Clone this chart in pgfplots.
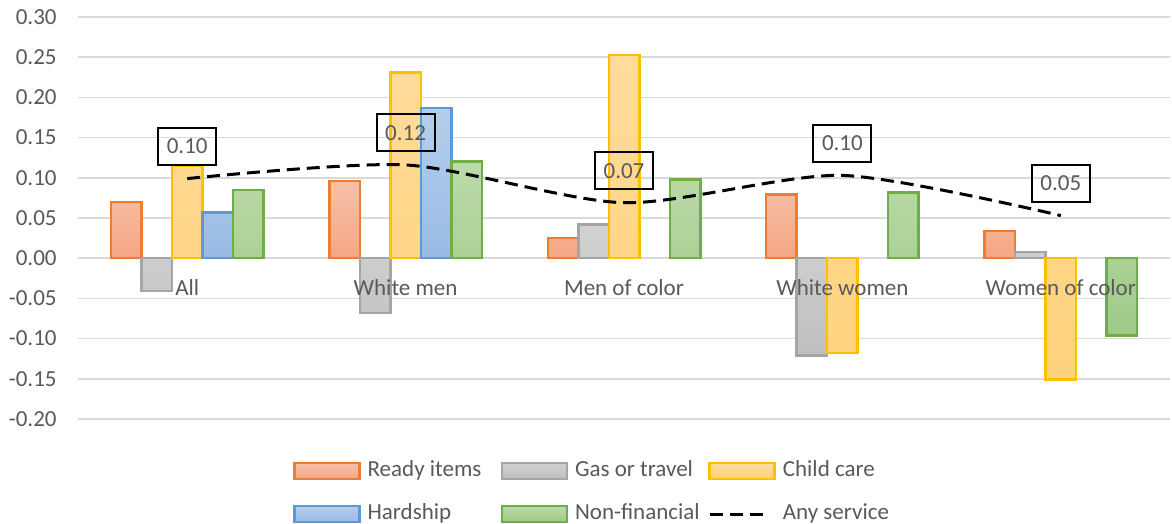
\documentclass[border=0pt]{standalone}
\usepackage{fontspec}
\setmainfont{Carlito}
\usepackage{pgfplots}
\pgfplotsset{compat=1.18}

\definecolor{axisgray}{HTML}{595959}
\definecolor{gridgray}{HTML}{D9D9D9}
\definecolor{readyline}{HTML}{ED7D31}
\definecolor{readytop}{HTML}{F6C0A8}
\definecolor{readybot}{HTML}{F4A784}
\definecolor{gasline}{HTML}{A5A5A5}
\definecolor{gastop}{HTML}{D2D2D2}
\definecolor{gasbot}{HTML}{BFBFBF}
\definecolor{careline}{HTML}{FFC000}
\definecolor{caretop}{HTML}{FFDC9C}
\definecolor{carebot}{HTML}{FFD27C}
\definecolor{hardline}{HTML}{5B9BD5}
\definecolor{hardtop}{HTML}{B6CEEC}
\definecolor{hardbot}{HTML}{98BBE4}
\definecolor{nonline}{HTML}{70AD47}
\definecolor{nontop}{HTML}{BBDAA8}
\definecolor{nonbot}{HTML}{9FCA88}

\newcommand{\lfont}{\fontsize{11.5}{13.8}\selectfont}
\newcommand{\lbl}[1]{\makebox[62pt][l]{#1}}

\pgfplotsset{
  barleg/.style={legend image code/.code={\draw[##1] (0pt,-4pt) rectangle (32.5pt,4pt);}},
  lineleg/.style={legend image code/.code={\draw[##1] (0pt,0pt) -- (30pt,0pt);}},
  gbar/.style={ybar, bar width=15.25pt, line width=1.25pt},
}

\begin{document}
\begin{tikzpicture}[x=1pt,y=1pt]
\begin{axis}[
  set layers=standard,
  at={(39pt,52.5pt)}, anchor=south west,
  scale only axis, width=546pt, height=201pt,
  xmin=-0.5, xmax=4.5, ymin=-0.2, ymax=0.3,
  clip=false,
  xtick={0,1,2,3,4},
  xticklabels={All,White men,Men of color,White women,Women of color},
  ytick={-0.2,-0.15,-0.1,-0.05,0,0.05,0.1,0.15,0.2,0.25,0.3},
  yticklabel={\pgfmathprintnumber[fixed,fixed zerofill,precision=2,assume math mode=true]{\tick}},
  ymajorgrids=true,
  major grid style={draw=gridgray, line width=0.75pt},
  axis line style={draw=none},
  major tick length=0pt,
  tick style={draw=none},
  yticklabel style={font=\lfont, text=axisgray, inner sep=0pt, xshift=-10.5pt},
  % category names are drawn over the bars
  xticklabel style={font=\lfont, text=axisgray, inner sep=0pt, yshift=70pt,
    /pgfplots/on layer=axis foreground},
  legend columns=3,
  legend cell align=left,
  legend style={at={(0.1970,-0.1033)}, anchor=north west, draw=none, fill=none,
    inner sep=0pt, outer sep=0pt, font=\lfont, text=axisgray,
    column sep=3.5pt, row sep=11pt,
    /tikz/every even column/.append style={column sep=4.5pt},
    nodes={inner sep=0pt, text height=8pt, text depth=2.5pt}},
]
% Ready items
\addplot[gbar, bar shift=-30.5pt, draw=readyline, top color=readytop, bottom color=readybot, barleg]
  coordinates {(0,0.070) (1,0.096) (2,0.025) (3,0.079) (4,0.034)};
\addlegendentry{\lbl{Ready items}}
% Gas or travel
\addplot[gbar, bar shift=-15.25pt, draw=gasline, top color=gastop, bottom color=gasbot, barleg]
  coordinates {(0,-0.041) (1,-0.068) (2,0.042) (3,-0.121) (4,0.008)};
\addlegendentry{\lbl{Gas or travel}}
% Child care
\addplot[gbar, bar shift=0pt, draw=careline, top color=caretop, bottom color=carebot, barleg]
  coordinates {(0,0.115) (1,0.231) (2,0.253) (3,-0.118) (4,-0.151)};
\addlegendentry{\lbl{Child care}}
% Hardship
\addplot[gbar, bar shift=15.25pt, draw=hardline, top color=hardtop, bottom color=hardbot, barleg]
  coordinates {(0,0.057) (1,0.187)};
\addlegendentry{\lbl{Hardship}}
% Non-financial
\addplot[gbar, bar shift=30.5pt, draw=nonline, top color=nontop, bottom color=nonbot, barleg]
  coordinates {(0,0.085) (1,0.120) (2,0.098) (3,0.082) (4,-0.096)};
\addlegendentry{\lbl{Non-financial}}
% Any service
\addplot[smooth, tension=0.45, black, line width=1.5pt, dash pattern=on 6.5pt off 3.5pt, lineleg,
  point meta=y,
  nodes near coords={\pgfmathprintnumber[fixed,fixed zerofill,precision=2,assume math mode=true]{\pgfplotspointmeta}},
  every node near coord/.append style={anchor=center, yshift=16pt, draw=black, solid,
    line width=1pt, inner sep=0pt, minimum width=29pt, minimum height=18.5pt,
    font=\lfont, text=axisgray}]
  coordinates {(0,0.099) (1,0.116) (2,0.069) (3,0.103) (4,0.053)};
\addlegendentry{\lbl{Any service}}
\end{axis}
% page covers the whole chart area
\pgfresetboundingbox
\path[use as bounding box] (0,0) rectangle (586,262);
\end{tikzpicture}
\end{document}
